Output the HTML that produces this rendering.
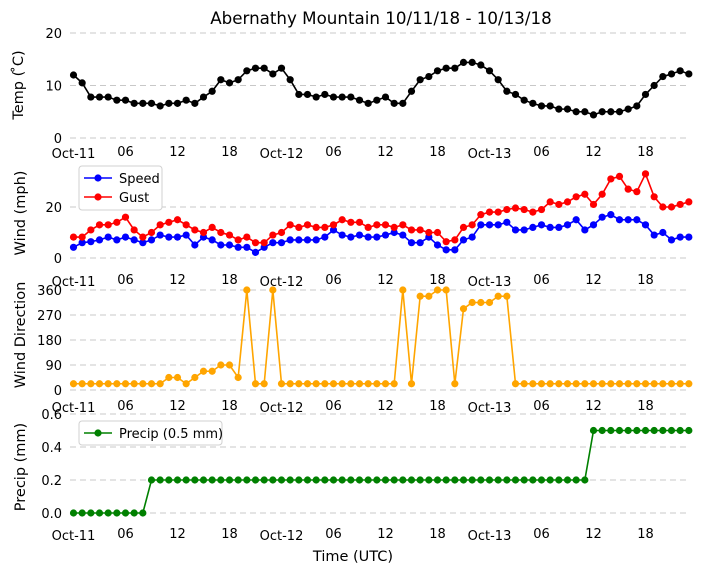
<!DOCTYPE html>
<html><head><meta charset="utf-8">
<style>
html,body{margin:0;padding:0;background:#fff;}
svg{display:block;font-family:"DejaVu Sans","Liberation Sans",sans-serif;}
</style></head>
<body>
<svg id="chart" width="704" height="573" viewBox="0 0 704 573" xmlns="http://www.w3.org/2000/svg">
<text x="381" y="24" font-size="16.7" text-anchor="middle">Abernathy Mountain 10/11/18 - 10/13/18</text>
<text transform="translate(23,85) rotate(-90)" font-size="14.5" text-anchor="middle">Temp ( ̊C)</text>
<text transform="translate(25,213) rotate(-90)" font-size="14.5" text-anchor="middle">Wind (mph)</text>
<text transform="translate(25,335) rotate(-90)" font-size="14.5" text-anchor="middle">Wind Direction</text>
<text transform="translate(25,467) rotate(-90)" font-size="14.5" text-anchor="middle">Precip (mm)</text>
<text x="353" y="561" font-size="14.5" text-anchor="middle">Time (UTC)</text>
<g id="plots"></g>
</svg>
<script>
const hours = Array.from({length:72},(_, i)=>i);
const xTickHours = [0,6,12,18,24,30,36,42,48,54,60,66];
const xTickLabels = ["Oct-11","06","12","18","Oct-12","06","12","18","Oct-13","06","12","18"];
const tempValues = [12,10.5,7.8,7.8,7.8,7.2,7.2,6.6,6.6,6.6,6.1,6.6,6.6,7.2,6.6,7.8,8.9,11.1,10.5,11.1,12.8,13.3,13.3,12.2,13.3,11.1,8.3,8.3,7.8,8.3,7.8,7.8,7.8,7.2,6.6,7.2,7.8,6.6,6.6,8.9,11.1,11.7,12.8,13.3,13.3,14.4,14.4,13.9,12.8,11.1,8.9,8.3,7.2,6.6,6.1,6.1,5.5,5.5,5.0,5.0,4.4,5.0,5.0,5.0,5.5,6.1,8.3,10.0,11.7,12.2,12.8,12.2];
const speedValues = [4.2,6,6.4,7.1,8.2,7.1,8.2,7.1,6,7.1,9,8.2,8.2,9,5.1,8.2,7.1,5.1,5.1,4.2,4.2,2.2,4.2,6,6,7.1,7.1,7.1,7.1,8.2,11,9,8.2,9,8.2,8.2,9,10,9,6,6,8.2,5.1,3.2,3.2,7.1,8.2,13,13,13,14,11,11,12,13,12,12,13,15,11,13,16,17,15,15,15,13,9,10,7.1,8.2,8.2];
const gustValues = [8.2,8.2,11,13,13,14,16,11,8.2,10,13,14,15,13,11,10,12,10,9,7.1,8.2,6,6,9,10,13,12,13,12,12,13,15,14,14,12,13,13,12,13,11,11,10,10,6.4,7.1,12,13,17,18,18,19,19.6,19,18,19,22,21,22,24,25,21,25,31,32,27,26,33,24,20,20,21,22];
const dirValues = [22.5,22.5,22.5,22.5,22.5,22.5,22.5,22.5,22.5,22.5,22.5,45,45,22.5,45,67.5,67.5,90,90,45,360,22.5,22.5,360,22.5,22.5,22.5,22.5,22.5,22.5,22.5,22.5,22.5,22.5,22.5,22.5,22.5,22.5,360,22.5,337.5,337.5,360,360,22.5,292.5,315,315,315,337.5,337.5,22.5,22.5,22.5,22.5,22.5,22.5,22.5,22.5,22.5,22.5,22.5,22.5,22.5,22.5,22.5,22.5,22.5,22.5,22.5,22.5,22.5];
const precipValues = [0,0,0,0,0,0,0,0,0,0.2,0.2,0.2,0.2,0.2,0.2,0.2,0.2,0.2,0.2,0.2,0.2,0.2,0.2,0.2,0.2,0.2,0.2,0.2,0.2,0.2,0.2,0.2,0.2,0.2,0.2,0.2,0.2,0.2,0.2,0.2,0.2,0.2,0.2,0.2,0.2,0.2,0.2,0.2,0.2,0.2,0.2,0.2,0.2,0.2,0.2,0.2,0.2,0.2,0.2,0.2,0.5,0.5,0.5,0.5,0.5,0.5,0.5,0.5,0.5,0.5,0.5,0.5];
const tempTicks = [0,10,20];
const windTicks = [0,20];
const dirTicks = [0,90,180,270,360];
const precipTicks = [0.0,0.2,0.4,0.6];
const precipTickLabels = ["0.0","0.2","0.4","0.6"];

const NS = "http://www.w3.org/2000/svg";
const root = document.getElementById('plots');
const xScale = h => 73.5 + h * (208/24);
function mk(tag, attrs, parent){
  const e = document.createElementNS(NS, tag);
  for (const k in attrs) e.setAttribute(k, attrs[k]);
  (parent||root).appendChild(e);
  return e;
}
function linScale(v0, p0, v1, p1){ return v => p0 + (v - v0) * (p1 - p0) / (v1 - v0); }

function panel(name, yScale, ticks, tickLabels, xLabelY){
  const g = mk('g', {});
  
  
  ticks.forEach((t, i) => {
    const y = yScale(t);
    const ln = mk('line', {x1:70, x2:690, y1:y, y2:y, stroke:'#c8c8c8', 'stroke-width':1, 'stroke-dasharray':'6,4'}, g);
    
    
    const tx = mk('text', {x:62, y:y+5, 'font-size':13, 'text-anchor':'end'}, g);
    
    
    tx.textContent = tickLabels ? tickLabels[i] : String(t);
  });
  xTickHours.forEach((h, i) => {
    const lbl = xTickLabels[i];
    const tx = mk('text', {x:xScale(h), y:xLabelY + (lbl.startsWith('Oct') ? 1 : -1), 'font-size':13, 'text-anchor':'middle'}, g);
    
    
    tx.textContent = lbl;
  });
  return g;
}
function series(name, values, yScale, color){
  const g = mk('g', {});
  
  
  const pts = values.map((v, i) => xScale(hours[i]).toFixed(2) + ',' + yScale(v).toFixed(2)).join(' ');
  const pl = mk('polyline', {points:pts, fill:'none', stroke:color, 'stroke-width':1.6}, g);
  
  
  values.forEach((v, i) => {
    const c = mk('circle', {cx:xScale(hours[i]), cy:yScale(v), r:3.6, fill:color}, g);
    
    
  });
}
function legend(name, x, y, w, entries){
  const g = mk('g', {});
  
  
  mk('rect', {x:x, y:y, width:w, height:entries.length*20+4, rx:3, fill:'#fff', stroke:'#d0d0d0'}, g);
  entries.forEach((e, i) => {
    const cy = y + 12 + i*19;
    const eg = mk('g', {}, g);
    
    
    mk('line', {x1:x+5, x2:x+33, y1:cy, y2:cy, stroke:e[1], 'stroke-width':1.6}, eg);
    mk('circle', {cx:x+19, cy:cy, r:3.6, fill:e[1]}, eg);
    const t = mk('text', {x:x+40, y:cy+5, 'font-size':13}, eg);
    t.textContent = e[0];
  });
}

// Temp
const yT = linScale(0, 138, 20, 33);
panel('temp', yT, tempTicks, null, 157);
series('temp', tempValues, yT, '#000');
// Wind
const yW = linScale(0, 258, 20, 207);
panel('wind', yW, windTicks, null, 285);
series('speed', speedValues, yW, '#0000ff');
series('gust', gustValues, yW, '#ff0000');
legend('wind-legend', 79, 166, 83, [['Speed','#0000ff'],['Gust','#ff0000']]);
// Direction
const yD = linScale(0, 390, 360, 290);
panel('direction', yD, dirTicks, null, 411);
series('direction', dirValues, yD, '#ffa500');
// Precip
const yP = linScale(0, 513, 0.6, 414);
panel('precip', yP, precipTicks, precipTickLabels, 539);
series('precip', precipValues, yP, '#008000');
legend('precip-legend', 79, 421, 143, [['Precip (0.5 mm)','#008000']]);
</script>
</body></html>
